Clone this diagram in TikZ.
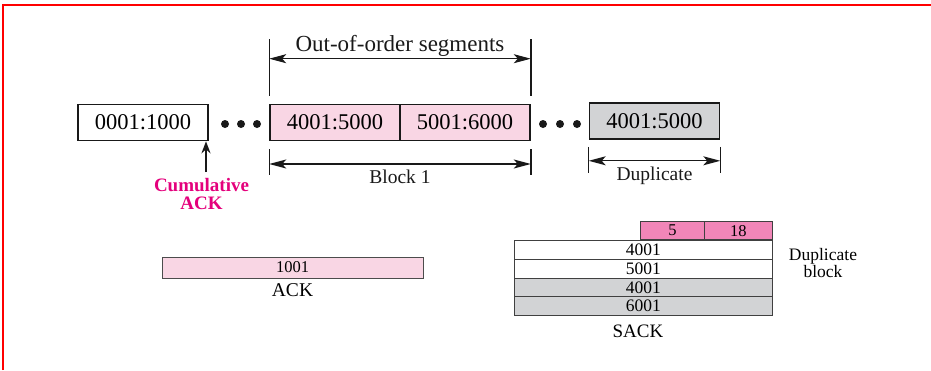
\documentclass[tikz,border=0pt]{standalone}
\usepackage{fontspec}
\setmainfont{Liberation Serif}
\usetikzlibrary{positioning,arrows.meta}

\definecolor{segPink}{RGB}{249,214,228}
\definecolor{hdrPink}{RGB}{241,134,184}
\definecolor{dupGray}{RGB}{210,211,213}
\definecolor{ackMagenta}{RGB}{228,0,124}
\definecolor{frameRed}{RGB}{255,0,0}

\tikzset{
  segbox/.style={draw=black!90,line width=1.6pt,minimum width=130pt,minimum height=36pt,
    inner sep=0pt,font=\fontsize{22.5}{24}\selectfont},
  sackrow/.style={draw=black!75,line width=0.8pt,minimum width=258pt,minimum height=18.75pt,
    inner sep=0pt,font=\fontsize{17.5}{18}\selectfont},
  sackhdr/.style={draw=black!75,fill=hdrPink,line width=0.8pt,minimum height=18pt,
    inner sep=0pt,font=\fontsize{16.5}{18}\selectfont},
  spanarrow/.style={{Stealth[length=17pt,width=9pt,inset=4pt]}-{Stealth[length=17pt,width=9pt,inset=4pt]},
    line width=1.1pt,black!90},
  tickline/.style={line width=1.4pt,black!90},
  lbl/.style={inner sep=0pt,font=\fontsize{19.5}{20}\selectfont},
}

\begin{document}
\begin{tikzpicture}[x=1pt,y=-1pt]
\useasboundingbox (0,0) rectangle (931,370);
\draw[frameRed,line width=2pt] (3,370) -- (3,5) -- (931,5);

% segments
\node[segbox,fill=white] (seg1) at (143,122.5) {0001:1000};
\node[segbox,fill=segPink] (ooo1) at (335,122.5) {4001:5000};
\node[segbox,fill=segPink,right=-1.6pt of ooo1] (ooo2) {5001:6000};
\node[segbox,fill=dupGray] (dup1) at (654.5,121) {4001:5000};
\foreach \x in {225,241,257,543,560,577}
  \fill[black!90] (\x,124) circle (4pt);

% out-of-order span
\draw[tickline] ([yshift=8pt]ooo1.north west) -- ([yshift=65pt]ooo1.north west);
\draw[tickline] ([yshift=8pt]ooo2.north east) -- ([yshift=65pt]ooo2.north east);
\draw[spanarrow] ([yshift=45pt]ooo1.north west) -- node[above=1.5pt,lbl,font=\fontsize{23}{24}\selectfont] (ooolbl) {Out-of-order segments}
  ([yshift=45pt]ooo2.north east);

% block 1 span
\draw[tickline] ([yshift=-8pt]ooo1.south west) -- ([yshift=-34pt]ooo1.south west);
\draw[tickline] ([yshift=-8pt]ooo2.south east) -- ([yshift=-34pt]ooo2.south east);
\draw[spanarrow] ([yshift=-22.7pt]ooo1.south west) -- node[below=5.5pt,lbl] (blklbl) {Block 1}
  ([yshift=-22.7pt]ooo2.south east);

% duplicate span
\draw[tickline] ([yshift=-7pt]dup1.south west) -- ([yshift=-33pt]dup1.south west);
\draw[tickline] ([yshift=-7pt]dup1.south east) -- ([yshift=-33pt]dup1.south east);
\draw[spanarrow] ([yshift=-21pt]dup1.south west) -- node[below=5.5pt,lbl] (duplbl) {Duplicate}
  ([yshift=-21pt]dup1.south east);

% cumulative ack
\coordinate (cumtail) at (206,172);
\draw[-{Stealth[length=12pt,width=9pt]},line width=2pt,black!90] (cumtail) -- (cumtail |- seg1.south);
\node[below=6.5pt of cumtail,xshift=-4.5pt,inner sep=0pt,align=center,text=ackMagenta,
  font=\fontsize{19}{18}\selectfont\bfseries] (cumlbl) {Cumulative\\ACK};

% ack field
\node[draw=black!70,fill=segPink,line width=0.8pt,minimum width=261pt,minimum height=21pt,inner sep=0pt,
  font=\fontsize{16.5}{18}\selectfont] (ackbar) at (292.5,267.5) {1001};
\node[below=4.5pt of ackbar,lbl] (acklbl) {ACK};

% sack option
\foreach \val/\fillc [count=\i] in {4001/white,5001/white,4001/dupGray,6001/dupGray}
  \node[sackrow,fill=\fillc,anchor=north west] (row\i) at (514,{240+(\i-1)*18.75}) {\val};
\node[sackhdr,minimum width=68pt,anchor=south east] (hdr2) at (row1.north east) {18};
\node[sackhdr,minimum width=64pt,left=-0.8pt of hdr2] (hdr1) {5};
\node[lbl,align=center,font=\fontsize{17.5}{16.5}\selectfont] (duplblk) at (823,263) {Duplicate\\block};
\node[lbl,font=\fontsize{19}{20}\selectfont] (sacklbl) at (638,331.5) {SACK};
\end{tikzpicture}
\end{document}
